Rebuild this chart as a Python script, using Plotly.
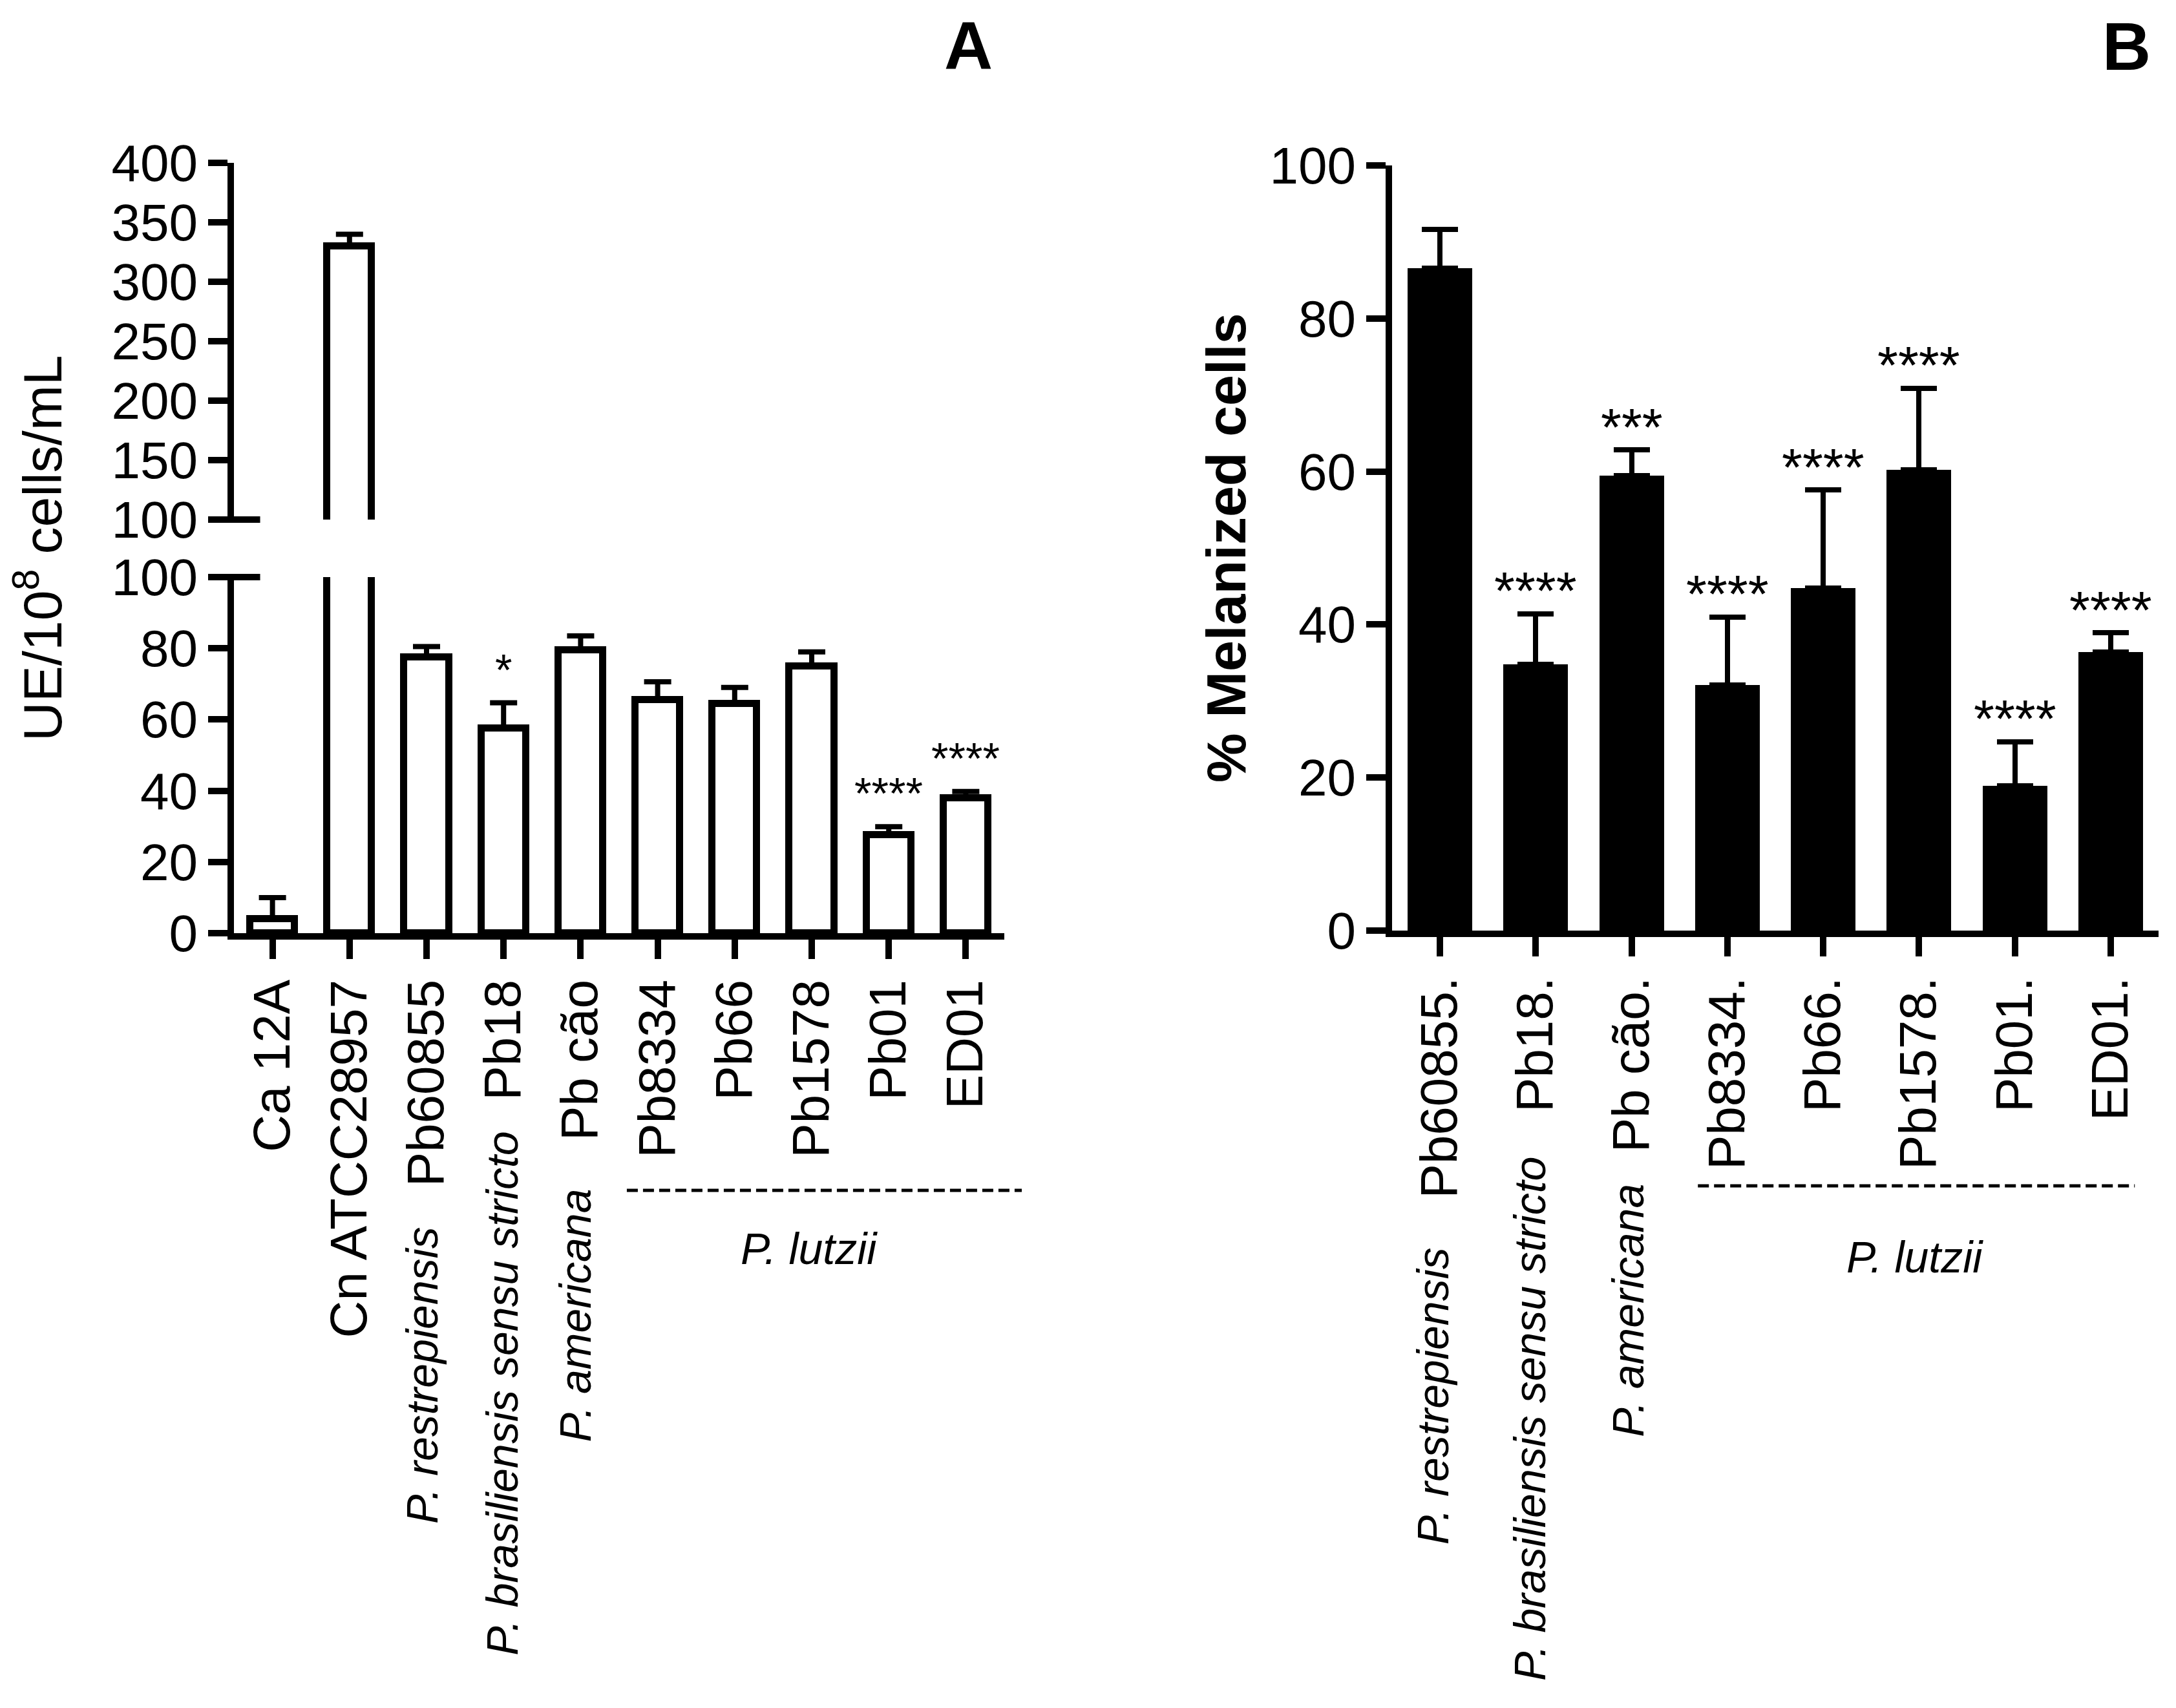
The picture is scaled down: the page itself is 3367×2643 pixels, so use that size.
import plotly.graph_objects as go

# panel A: UE / 10^8 cells/mL (broken y axis)
labels_a = ["Ca 12A", "Cn ATCC28957", "Pb60855", "Pb18", "Pb cão",
            "Pb8334", "Pb66", "Pb1578", "Pb01", "ED01"]
ue_mean = [4, 330, 77.5, 57.5, 79.5, 65.5, 64.5, 75, 27.5, 38]
ue_err = [6, 10, 3, 7.2, 4, 5.1, 4.5, 4, 2.4, 1.8]
ue_stars = ["", "", "", "*", "", "", "", "", "****", "****"]

# panel B: % melanized cells
labels_b = ["Pb60855.", "Pb18.", "Pb cão.", "Pb8334.", "Pb66.",
            "Pb1578.", "Pb01.", "ED01."]
mel_mean = [86.6, 34.8, 59.5, 32.1, 44.8, 60.2, 18.9, 36.4]
mel_err = [5, 6.6, 3.3, 8.9, 12.8, 10.7, 5.8, 2.5]
mel_stars = ["", "****", "***", "****", "****", "****", "****", "****"]

FONT = "Liberation Sans, Arial, sans-serif"
OFF = 8  # page body margin
FW, FH = 3367 - 2 * OFF, 2643 - 2 * OFF


def px(x):
    return (x - OFF) / FW


def py(y):
    return 1 - (y - OFF) / FH


fig = go.Figure()

bar_a = dict(x=labels_a, y=ue_mean, width=0.58,
             marker=dict(color="white", line=dict(color="black", width=11)),
             error_y=dict(type="data", array=ue_err, arrayminus=[0] * len(ue_err),
                          symmetric=False, color="black", thickness=8, width=21),
             showlegend=False, hoverinfo="x+y")

# lower and upper segments of the broken axis get the same data
fig.add_trace(go.Bar(xaxis="x", yaxis="y", **bar_a))
fig.add_trace(go.Bar(xaxis="x2", yaxis="y2", **bar_a))

fig.add_trace(go.Bar(
    x=labels_b, y=mel_mean, width=0.674, xaxis="x3", yaxis="y3",
    marker=dict(color="black", line=dict(color="black", width=0)),
    error_y=dict(type="data", array=mel_err, arrayminus=[0] * len(mel_err),
                 symmetric=False, color="black", thickness=8, width=28),
    showlegend=False, hoverinfo="x+y"))

axis_common = dict(showline=True, linecolor="black", linewidth=10,
                   ticks="outside", ticklen=30, tickwidth=10, tickcolor="black",
                   showgrid=False, zeroline=False, automargin=False,
                   tickfont=dict(family=FONT, size=80, color="black"))

xa_dom = [px(362), px(1554)]
xb_dom = [px(2154), px(3340)]

fig.update_layout(
    width=FW, height=FH,
    margin=dict(l=0, r=0, t=0, b=0, autoexpand=False),
    paper_bgcolor="white", plot_bgcolor="white",
    font=dict(family=FONT, color="black"),
    bargap=0,
    xaxis=dict(domain=xa_dom, anchor="y", type="category", range=[-0.5, 9.5],
               tickangle=-90, **axis_common),
    yaxis=dict(domain=[py(1444), py(893)], anchor="x", range=[0, 100],
               tickvals=[0, 20, 40, 60, 80, 100], **axis_common),
    xaxis2=dict(domain=xa_dom, anchor="y2", type="category", range=[-0.5, 9.5],
                matches="x", visible=False),
    yaxis2=dict(domain=[py(804), py(252)], anchor="x2", range=[100, 400],
                tickvals=[100, 150, 200, 250, 300, 350, 400], **axis_common),
    xaxis3=dict(domain=xb_dom, anchor="y3", type="category", range=[-0.5, 7.5],
                tickangle=-90, **axis_common),
    yaxis3=dict(domain=[py(1440), py(256)], anchor="x3", range=[0, 100],
                tickvals=[0, 20, 40, 60, 80, 100], **axis_common),
)

ann = []

# significance stars above the error bars
for lab, m, e, s in zip(labels_a, ue_mean, ue_err, ue_stars):
    if s:
        ann.append(dict(x=lab, y=m + e, xref="x", yref="y", text=s, showarrow=False,
                        xanchor="center", yanchor="middle", yshift=52,
                        font=dict(family=FONT, size=68, color="black")))
for lab, m, e, s in zip(labels_b, mel_mean, mel_err, mel_stars):
    if s:
        ann.append(dict(x=lab, y=m + e, xref="x3", yref="y3", text=s, showarrow=False,
                        xanchor="center", yanchor="middle", yshift=36,
                        font=dict(family=FONT, size=82, color="black")))

# axis titles and panel letters
centre = dict(xref="paper", yref="paper", showarrow=False,
              xanchor="center", yanchor="middle")
ann.append(dict(x=px(60), y=py(848), text="UE/10<sup>8</sup> cells/mL", textangle=-90,
                font=dict(family=FONT, size=84, color="black"), **centre))
ann.append(dict(x=px(1897), y=py(848), text="<b>% Melanized cells</b>", textangle=-90,
                font=dict(family=FONT, size=86, color="black"), **centre))
ann.append(dict(x=px(1498), y=py(70), text="<b>A</b>",
                font=dict(family=FONT, size=104, color="black"), **centre))
ann.append(dict(x=px(3290), y=py(72), text="<b>B</b>",
                font=dict(family=FONT, size=104, color="black"), **centre))

# species group labels
ital = dict(family=FONT, size=68, color="black")
species_a = [("Pb60855", "<i>P. restrepiensis</i>", -7, 1896),
             ("Pb18", "<i>P. brasiliensis sensu stricto</i>", -3, 1749),
             ("Pb cão", "<i>P. americana</i>", -8, 1837)]
for lab, txt, dx, ytop in species_a:
    ann.append(dict(x=lab, xref="x", y=py(ytop), yref="paper", text=txt,
                    textangle=-90, showarrow=False, xanchor="center", yanchor="top",
                    xshift=dx, font=ital))
species_b = [("Pb60855.", "<i>P. restrepiensis</i>", -11, 1928),
             ("Pb18.", "<i>P. brasiliensis sensu stricto</i>", -10, 1788),
             ("Pb cão.", "<i>P. americana</i>", -6, 1830)]
for lab, txt, dx, ytop in species_b:
    ann.append(dict(x=lab, xref="x3", y=py(ytop), yref="paper", text=txt,
                    textangle=-90, showarrow=False, xanchor="center", yanchor="top",
                    xshift=dx, font=ital))
ann.append(dict(x="Pb1578", xref="x", y=py(1932), yref="paper",
                text="<i>P. lutzii</i>", showarrow=False, xanchor="center",
                yanchor="middle", xshift=-4, font=ital))
ann.append(dict(x="Pb1578.", xref="x3", y=py(1945), yref="paper",
                text="<i>P. lutzii</i>", showarrow=False, xanchor="center",
                yanchor="middle", xshift=-6, font=ital))

fig.update_layout(annotations=ann)

# break marks on the y axis of panel A and dashed group lines
shapes = [
    dict(type="line", xref="x domain", yref="y domain", x0=-0.03, x1=0.034, y0=1, y1=1,
         line=dict(color="black", width=10)),
    dict(type="line", xref="x2 domain", yref="y2 domain", x0=-0.03, x1=0.034, y0=0, y1=0,
         line=dict(color="black", width=10)),
    dict(type="line", xref="x domain", yref="paper", x0=0.510, x1=1.0227,
         y0=py(1842), y1=py(1842),
         line=dict(color="black", width=5, dash="17px,8px")),
    dict(type="line", xref="x3 domain", yref="paper", x0=0.399, x1=0.969,
         y0=py(1835), y1=py(1835),
         line=dict(color="black", width=5, dash="17px,8px")),
]
fig.update_layout(shapes=shapes)

fig.write_html("out.html")
